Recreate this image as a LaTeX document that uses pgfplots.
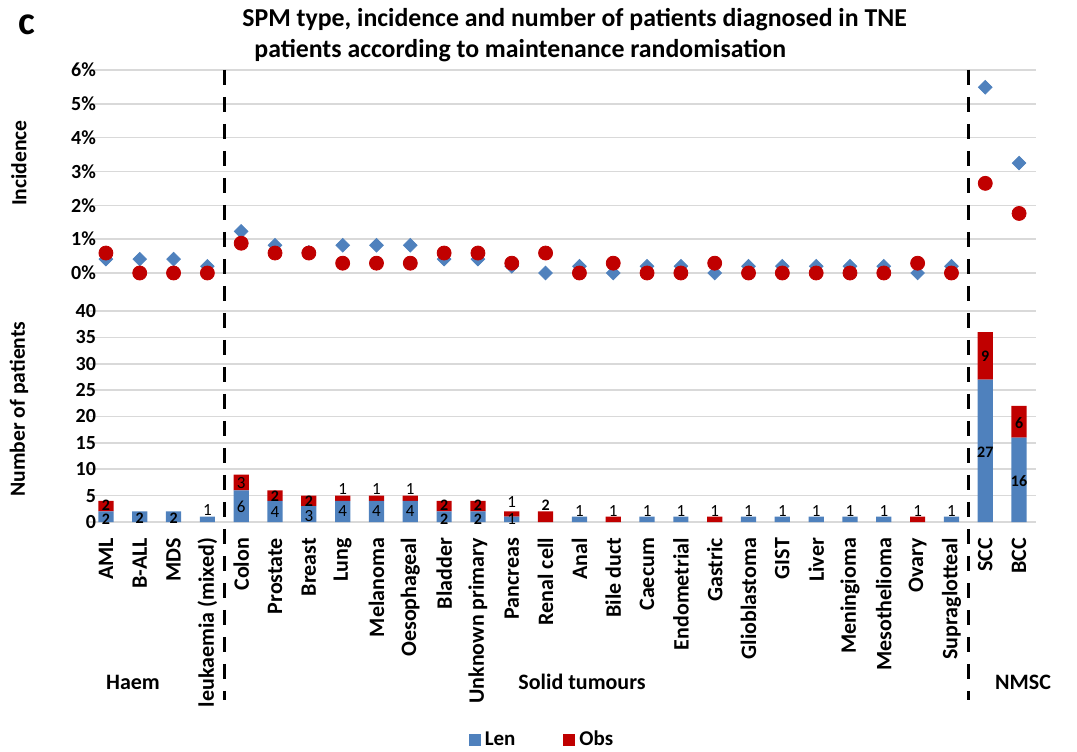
\documentclass[border=0pt]{standalone}
\usepackage{fontspec}
\setmainfont{Carlito}
\usepackage{pgfplots}
\pgfplotsset{compat=1.18}
\usepackage{pgfplotstable}
\definecolor{lenblue}{HTML}{4F81BD}
\definecolor{obsred}{HTML}{C00000}
\definecolor{gridgray}{HTML}{D9D9D9}

\pgfplotstableread{
x len obs ilen iobs
0 2 2 0.41 0.59
1 2 0 0.41 0
2 2 0 0.41 0
3 1 0 0.20 0
4 6 3 1.23 0.88
5 4 2 0.82 0.59
6 3 2 0.61 0.59
7 4 1 0.82 0.29
8 4 1 0.82 0.29
9 4 1 0.82 0.29
10 2 2 0.41 0.59
11 2 2 0.41 0.59
12 1 1 0.20 0.29
13 0 2 0 0.59
14 1 0 0.20 0
15 0 1 0 0.29
16 1 0 0.20 0
17 1 0 0.20 0
18 0 1 0 0.29
19 1 0 0.20 0
20 1 0 0.20 0
21 1 0 0.20 0
22 1 0 0.20 0
23 1 0 0.20 0
24 0 1 0 0.29
25 1 0 0.20 0
26 27 9 5.49 2.65
27 16 6 3.25 1.76
}\data

\pgfplotstableread{
x y lab
0 0.6 2
0 3.2 2
1 0.7 2
2 0.7 2
5 4.9 2
6 3.9 2
10 0.6 2
10 3.2 2
11 0.6 2
11 3.2 2
13 3.2 2
26 13.3 27
26 31.4 9
27 7.8 16
27 18.8 6
}\labbold

\pgfplotstableread{
x y lab
3 2.2 1
4 2.9 6
4 7.4 3
5 1.9 4
6 1.2 3
7 2.0 4
7 6.2 1
8 2.0 4
8 6.2 1
9 2.0 4
9 6.2 1
12 0.5 1
12 3.7 1
14 2.1 1
15 2.1 1
16 2.1 1
17 2.1 1
18 2.1 1
19 2.1 1
20 2.1 1
21 2.1 1
22 2.1 1
23 2.1 1
24 2.1 1
25 2.1 1
}\labreg

\begin{document}
\begin{tikzpicture}
\useasboundingbox (0,0) rectangle (538.5pt,375.5pt);
\pgfplotsset{
  common/.style={
    scale only axis, width=473.5pt, anchor=south west,
    xmin=-0.5, xmax=27.5,
    axis line style={draw=none}, major tick length=0pt,
    ymajorgrids, grid style={gridgray, line width=0.8pt},
    tick label style={font=\bfseries\fontsize{10}{12}\selectfont},
    yticklabel style={xshift=7pt},
  }
}
% Top: incidence
\begin{axis}[common, at={(44.5pt,239pt)}, height=101.5pt,
  ymin=0, ymax=6, ytick={0,1,2,3,4,5,6},
  yticklabels={0\%,1\%,2\%,3\%,4\%,5\%,6\%},
  xtick=\empty, clip=false]
\addplot[only marks, mark=square*, mark size=2.4pt,
  mark options={rotate=45, fill=lenblue, draw=lenblue}] table[x=x,y=ilen]{\data};
\addplot[only marks, mark=*, mark size=3.5pt,
  mark options={fill=obsred, draw=obsred}] table[x=x,y=iobs]{\data};
\end{axis}
% Bottom: numbers
\begin{axis}[common, at={(44.5pt,114.5pt)}, height=105.5pt,
  ymin=0, ymax=40, ytick={0,5,...,40},
  yticklabels={0,5,10,15,20,25,30,35,40},
  ybar stacked, bar width=7.6pt,
  xtick={0,...,27},
  xticklabels={AML,B-ALL,MDS,leukaemia (mixed),Colon,Prostate,Breast,Lung,Melanoma,Oesophageal,Bladder,Unknown primary,Pancreas,Renal cell,Anal,Bile duct,Caecum,Endometrial,Gastric,Glioblastoma,GIST,Liver,Meningioma,Mesothelioma,Ovary,Supraglotteal,SCC,BCC},
  xticklabel style={rotate=90, anchor=east, font=\bfseries\fontsize{11}{12}\selectfont},
  xticklabel shift=4.5pt,
  legend style={at={(0.4794,-1.033)}, anchor=center, draw=none, fill=none,
    legend columns=2, font=\bfseries\fontsize{10.5}{12}\selectfont,
    /tikz/every even column/.append style={column sep=22pt}},
  legend image code/.code={\fill[#1] (0pt,-3pt) rectangle (6pt,3pt);},
  ]
\addplot[fill=lenblue, draw=none] table[x=x,y=len]{\data};
\addplot[fill=obsred, draw=none] table[x=x,y=obs]{\data};
\legend{Len,Obs}
\end{axis}
% Overlay: bar labels and separators
\begin{axis}[common, at={(44.5pt,114.5pt)}, height=105.5pt,
  ymin=0, ymax=40, hide axis, clip=false]
\addplot[scatter, only marks, mark=*, mark size=0pt, mark options={draw=none, fill=none},
  point meta=explicit symbolic,
  scatter/@pre marker code/.code={\node[text=black, font=\bfseries\fontsize{8}{9}\selectfont, inner sep=0pt] {\pgfplotspointmeta};},
  scatter/@post marker code/.code={}] table[x=x,y=y,meta=lab]{\labbold};
\addplot[scatter, only marks, mark=*, mark size=0pt, mark options={draw=none, fill=none},
  point meta=explicit symbolic,
  scatter/@pre marker code/.code={\node[text=black, font=\fontsize{8.5}{9}\selectfont, inner sep=0pt] {\pgfplotspointmeta};},
  scatter/@post marker code/.code={}] table[x=x,y=y,meta=lab]{\labreg};
\draw[black, line width=1.6pt, dash pattern=on 7.5pt off 6pt] (axis cs:3.5,85.7) -- (axis cs:3.5,-33.7);
\draw[black, line width=1.6pt, dash pattern=on 7.5pt off 6pt] (axis cs:25.5,85.7) -- (axis cs:25.5,-33.7);
\end{axis}
% Texts
\node[anchor=base west, inner sep=0pt, font=\bfseries\fontsize{20}{22}\selectfont] at (9pt,358pt) {c};
\node[anchor=base west, inner sep=0pt, font=\bfseries\fontsize{12.9}{14}\selectfont] at (121pt,362pt) {SPM type, incidence and number of patients diagnosed in TNE};
\node[anchor=base west, inner sep=0pt, font=\bfseries\fontsize{12.9}{14}\selectfont] at (127pt,346.5pt) {patients according to maintenance randomisation};
\node[rotate=90, font=\bfseries\fontsize{10.8}{12}\selectfont] at (9.5pt,294pt) {Incidence};
\node[rotate=90, font=\bfseries\fontsize{10.8}{12}\selectfont] at (9.5pt,171pt) {Number of patients};
\node[font=\bfseries\fontsize{11}{13}\selectfont] at (66.5pt,34.5pt) {Haem};
\node[font=\bfseries\fontsize{11}{13}\selectfont] at (291pt,34.5pt) {Solid tumours};
\node[font=\bfseries\fontsize{11}{13}\selectfont] at (511.5pt,34.5pt) {NMSC};
\end{tikzpicture}
\end{document}
